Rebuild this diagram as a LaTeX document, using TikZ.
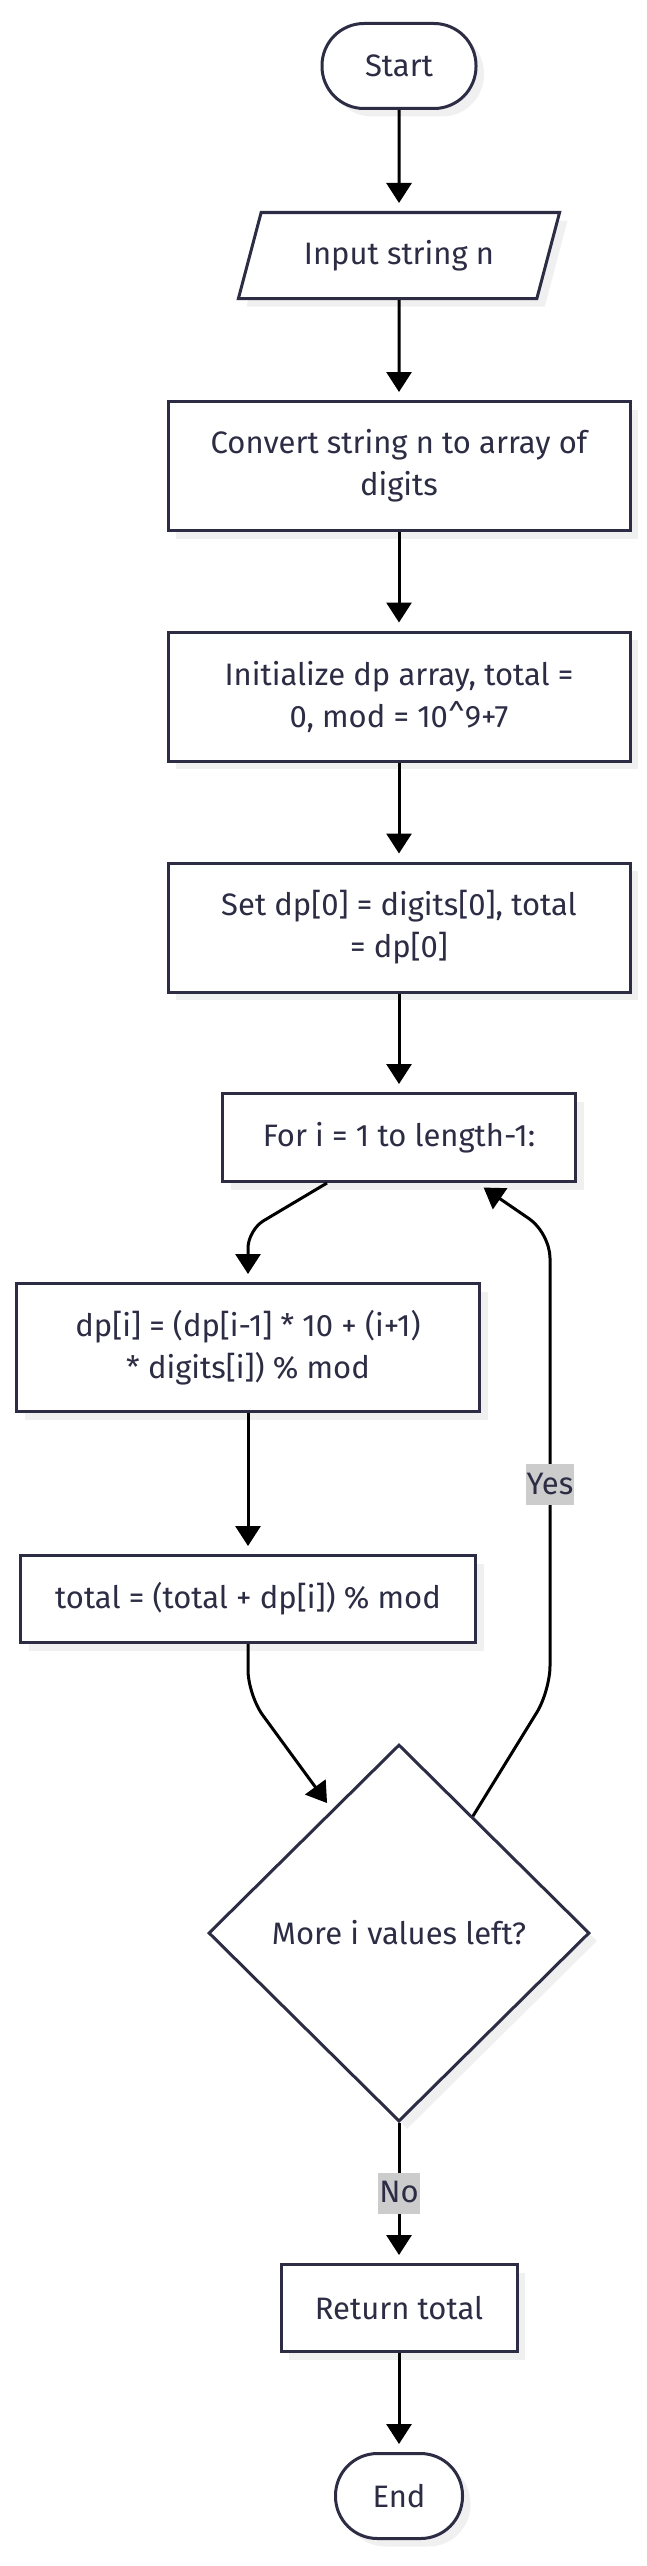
\documentclass[tikz,border=0pt]{standalone}
\usepackage{fontspec}
\setmainfont{Fira Sans}
\usepackage{tikz}
\usetikzlibrary{shapes.geometric, arrows.meta, shadows, calc}

\definecolor{inkline}{HTML}{2C2C44}
\definecolor{labelbg}{HTML}{CCCCCC}

\begin{document}
\begin{tikzpicture}[
    x=1pt, y=-1pt,
    >={Triangle[width=25pt,length=20pt]},
    base/.style={draw=inkline, line width=3pt, fill=white, text=inkline,
                 font=\fontsize{31pt}{42pt}\selectfont, align=center, inner sep=0pt,
                 general shadow={shadow xshift=8pt, shadow yshift=-8pt, fill=black!6}},
    terminal/.style={base, rectangle, rounded corners=42pt, minimum height=85pt},
    io/.style={base, trapezium, trapezium left angle=63, trapezium right angle=117,
               trapezium stretches=true, minimum height=86pt},
    process/.style={base, rectangle},
    decision/.style={base, diamond, minimum width=381pt, minimum height=377pt},
    flow/.style={->, line width=3pt, black, shorten >=8pt},
    answer/.style={font=\fontsize{31pt}{42pt}\selectfont, fill=labelbg, text=inkline,
                   sharp corners, inner xsep=1pt, inner ysep=0pt,
                   text height=30pt, text depth=11pt}
]
\useasboundingbox (0,0) rectangle (647,2566);

\node[terminal, minimum width=154pt] (start) at (399,66) {Start};
\node[io, minimum width=322pt] (input) at (399,255.5) {Input string n};
\node[process, minimum width=462pt, minimum height=129pt] (convert) at (399,466)
    {Convert string n to array of\\digits};
\node[process, minimum width=462pt, minimum height=129pt] (init) at (399,696.5)
    {Initialize dp array, total =\\0, mod = 10\textasciicircum 9+7};
\node[process, minimum width=462pt, minimum height=129pt] (setdp) at (399,927.5)
    {Set dp[0] = digits[0], total\\= dp[0]};
\node[process, minimum width=353pt, minimum height=88pt] (loop) at (399,1137.5)
    {For i = 1 to length-1:};
\node[process, minimum width=463pt, minimum height=128pt] (dpstep) at (248,1347.5)
    {dp[i] = (dp[i-1] * 10 + (i+1)\\* digits[i]) \% mod};
\node[process, minimum width=455pt, minimum height=87pt] (total) at (248,1599)
    {total = (total + dp[i]) \% mod};
\node[decision] (more) at (399,1933) {More i values left?};
\node[process, minimum width=236pt, minimum height=87pt] (ret) at (399,2308)
    {Return total};
\node[terminal, minimum width=127pt] (stop) at (399,2496) {End};

% bends of the loop
\coordinate (bendA) at (248,1230);
\coordinate (bendB) at (248,1695);
\coordinate (bendC) at (550,1691);
\coordinate (bendD) at (550,1233);

\draw[flow] (start) -- (input);
\draw[flow] (input) -- (convert);
\draw[flow] (convert) -- (init);
\draw[flow] (init) -- (setdp);
\draw[flow] (setdp) -- (loop);
\draw[flow, rounded corners=18pt] ([xshift=-72pt]loop.south) -- (bendA) -- (dpstep.north);
\draw[flow] (dpstep) -- (total);
\draw[flow, rounded corners=25pt] (total.south) -- (bendB) -- ($(more.north)!0.35!(more.west)$);
\draw[flow, rounded corners=25pt] ($(more.north)!0.385!(more.east)$) -- (bendC)
    -- node[answer, pos=0.45]{Yes} (bendD) -- ([xshift=78pt]loop.south);
\draw[flow] (more.south) -- node[answer]{No} (ret.north);
\draw[flow] (ret) -- (stop);
\end{tikzpicture}
\end{document}
